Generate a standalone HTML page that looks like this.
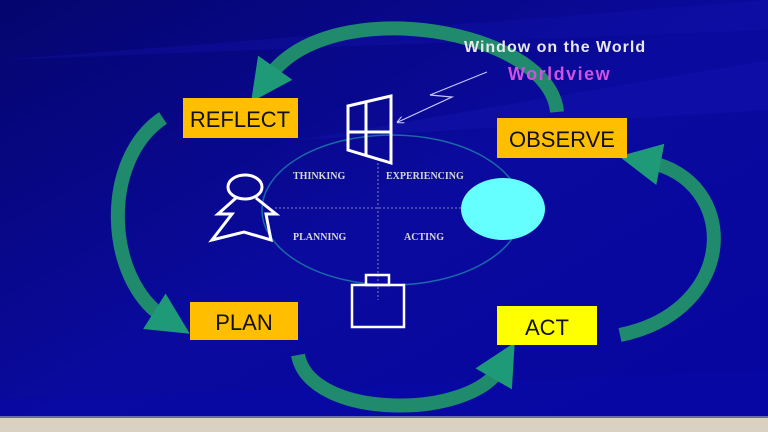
<!DOCTYPE html>
<html><head><style>
html,body{margin:0;padding:0;width:768px;height:432px;overflow:hidden}
</style></head><body>
<svg width="768" height="432" viewBox="0 0 768 432" xmlns="http://www.w3.org/2000/svg" font-family="Liberation Sans, sans-serif">
<defs>
<linearGradient id="bg" x1="0" y1="0" x2="1" y2="1">
<stop offset="0" stop-color="#05056e"/>
<stop offset="0.5" stop-color="#0a0a9e"/>
<stop offset="1" stop-color="#0606a0"/>
</linearGradient>
<marker id="ah" viewBox="0 0 10 10" refX="3" refY="5" markerWidth="3" markerHeight="3.2" orient="auto" markerUnits="strokeWidth">
<path d="M0,0 L10,5 L0,10 z" fill="#1f9a78"/>
</marker>
<marker id="sa" viewBox="0 0 10 10" refX="8" refY="5" markerWidth="6" markerHeight="6" orient="auto" markerUnits="strokeWidth">
<path d="M0,0 L10,5 L0,10" fill="none" stroke="#c8c8ff" stroke-width="1.5"/>
</marker>
</defs>
<rect width="768" height="432" fill="url(#bg)"/>
<path d="M0 60 L768 0 L768 30 Z" fill="#1414b0" opacity="0.35"/>
<path d="M300 140 L768 60 L768 110 Z" fill="#1a1ab8" opacity="0.3"/>
<path d="M0 400 L768 370 L768 420 L0 418 Z" fill="#0808a8" opacity="0.5"/>
<rect x="0" y="417" width="768" height="15" fill="#d9d2c2"/>
<rect x="0" y="416" width="768" height="2" fill="#6a6ab0"/>

<g fill="none" stroke="#1f8a6c" stroke-width="14">
<path d="M557 112 C550 30 330 -10 268 78" marker-end="url(#ah)"/>
<path d="M163 118 C100 160 105 280 165 318" marker-end="url(#ah)"/>
<path d="M298 355 C310 420 470 420 500 368" marker-end="url(#ah)"/>
<path d="M620 335 C740 310 740 180 648 162" marker-end="url(#ah)"/>
</g>

<ellipse cx="392" cy="210" rx="130" ry="75" fill="none" stroke="#1a6aa8" stroke-width="1.5"/>
<line x1="275" y1="208" x2="462" y2="208" stroke="#8080c0" stroke-width="1" stroke-dasharray="2,2"/>
<line x1="378" y1="163" x2="378" y2="300" stroke="#8080c0" stroke-width="1" stroke-dasharray="2,2"/>

<g fill="none" stroke="#fff" stroke-width="3">
<path d="M348 106 L391 96 L391 163 L348 150 Z"/>
<line x1="366" y1="102" x2="366" y2="156"/>
<line x1="348" y1="132" x2="391" y2="132"/>
</g>
<path d="M487 72 L430 95 L452 97 L398 122" fill="none" stroke="#c8c8ff" stroke-width="1.2" marker-end="url(#sa)"/>
<g fill="none" stroke="#fff" stroke-width="3">
<ellipse cx="245" cy="187" rx="17" ry="12"/>
<path d="M236 198 L218 214 L232 214 L212 240 L244 232 L271 240 L266 214 L276 214 L256 198"/>
</g>
<g fill="none" stroke="#fff" stroke-width="2.5">
<rect x="352" y="285" width="52" height="42"/>
<rect x="366" y="275" width="23" height="10"/>
</g>
<ellipse cx="503" cy="209" rx="42" ry="31" fill="#66ffff"/>

<g fill="#d8d8d8" font-family="Liberation Serif, serif" font-weight="bold" font-size="10">
<text x="293" y="179">THINKING</text>
<text x="386" y="179">EXPERIENCING</text>
<text x="293" y="240">PLANNING</text>
<text x="404" y="240">ACTING</text>
</g>
<text x="464" y="52" fill="#e8e8e8" font-weight="bold" font-size="16" letter-spacing="1">Window on the World</text>
<text x="508" y="80" fill="#d050e0" font-weight="bold" font-size="18" letter-spacing="1.5">Worldview</text>

<rect x="183" y="98" width="115" height="40" fill="#ffbe00"/>
<text x="240" y="127" text-anchor="middle" font-size="22" fill="#111">REFLECT</text>
<rect x="497" y="118" width="130" height="40" fill="#ffbe00"/>
<text x="562" y="147" text-anchor="middle" font-size="22" fill="#111">OBSERVE</text>
<rect x="190" y="302" width="108" height="38" fill="#ffbe00"/>
<text x="244" y="330" text-anchor="middle" font-size="22" fill="#111">PLAN</text>
<rect x="497" y="306" width="100" height="39" fill="#ffff00"/>
<text x="547" y="335" text-anchor="middle" font-size="22" fill="#111">ACT</text>
</svg>
</body></html>
